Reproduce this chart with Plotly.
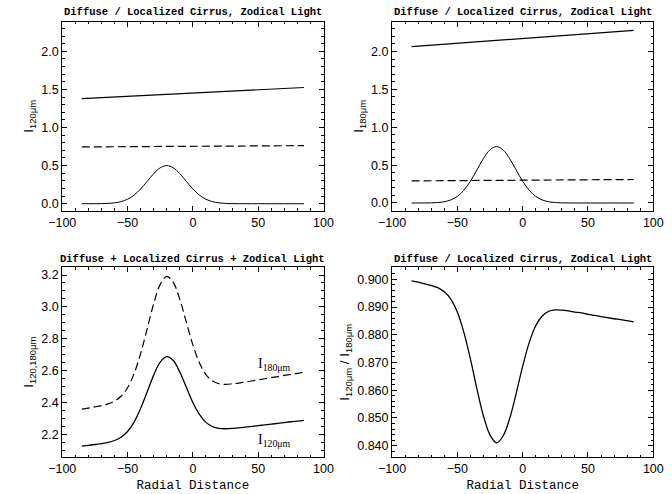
import plotly.graph_objects as go

# ---------------- data ----------------
x_ends = [-85, 85]
x_curve = [-85, -80, -75, -70, -65, -60, -55, -50, -45, -40, -35, -30, -25, -20, -15,
           -10, -5, 0, 5, 10, 15, 20, 25, 30, 35, 40, 45, 50, 55, 60, 65, 70, 75, 80, 85]

# top-left: 120 micron components
diffuse_120 = [1.38, 1.525]
zodi_120 = [0.745, 0.762]
cirrus_120 = [0, 0.0001, 0.0004, 0.0013, 0.0041, 0.0112, 0.0272, 0.0588, 0.1131, 0.1931,
              0.2928, 0.394, 0.471, 0.5, 0.471, 0.394, 0.2928, 0.1931, 0.1131, 0.0588,
              0.0272, 0.0112, 0.0041, 0.0013, 0.0004, 0.0001, 0, 0, 0, 0, 0, 0, 0, 0, 0]

# top-right: 180 micron components
diffuse_180 = [2.065, 2.279]
zodi_180 = [0.292, 0.31]
cirrus_180 = [0, 0.0001, 0.0006, 0.0019, 0.006, 0.0166, 0.0405, 0.0876, 0.1685, 0.2877,
              0.4363, 0.5871, 0.7018, 0.745, 0.7018, 0.5871, 0.4363, 0.2877, 0.1685, 0.0876,
              0.0405, 0.0166, 0.006, 0.0019, 0.0006, 0.0001, 0, 0, 0, 0, 0, 0, 0, 0, 0]

# bottom-left: totals
total_120 = [2.125, 2.130, 2.135, 2.141, 2.148, 2.160, 2.181, 2.217, 2.276, 2.361, 2.465,
             2.571, 2.653, 2.687, 2.663, 2.590, 2.494, 2.399, 2.324, 2.274, 2.248, 2.236,
             2.234, 2.236, 2.240, 2.244, 2.249, 2.254, 2.258, 2.263, 2.268, 2.273, 2.278,
             2.282, 2.287]
total_180 = [2.357, 2.364, 2.371, 2.379, 2.390, 2.408, 2.438, 2.492, 2.580, 2.706, 2.862,
             3.019, 3.141, 3.191, 3.154, 3.047, 2.903, 2.761, 2.648, 2.574, 2.534, 2.517,
             2.513, 2.516, 2.521, 2.528, 2.534, 2.541, 2.548, 2.555, 2.562, 2.569, 2.575,
             2.582, 2.589]

# bottom-right: ratio
ratio = [0.8995, 0.8990, 0.8984, 0.8978, 0.8970, 0.8955, 0.8929, 0.8882, 0.8809, 0.8713,
         0.8605, 0.8507, 0.8439, 0.8410, 0.8435, 0.8497, 0.8588, 0.8686, 0.8772, 0.8833,
         0.8868, 0.8885, 0.8890, 0.8889, 0.8886, 0.8882, 0.8879, 0.8874, 0.8870, 0.8866,
         0.8862, 0.8858, 0.8855, 0.8851, 0.8847]

titles = ["Diffuse / Localized Cirrus, Zodical Light",
          "Diffuse / Localized Cirrus, Zodical Light",
          "Diffuse + Localized Cirrus + Zodical Light",
          "Diffuse / Localized Cirrus, Zodical Light"]
ytitles = ["I<sub>120μm</sub>", "I<sub>180μm</sub>", "I<sub>120,180μm</sub>",
           "I<sub>120μm</sub> / I<sub>180μm</sub>"]
xtitle = "Radial Distance"

# ---------------- figure ----------------
fig = go.Figure()
solid = dict(color="black", width=1.2)
dashed = dict(color="black", width=1.2, dash="8px,4px")

fig.add_trace(go.Scatter(x=x_ends, y=diffuse_120, mode="lines", line=solid, xaxis="x", yaxis="y"))
fig.add_trace(go.Scatter(x=x_ends, y=zodi_120, mode="lines", line=dashed, xaxis="x", yaxis="y"))
fig.add_trace(go.Scatter(x=x_curve, y=cirrus_120, mode="lines", line=dict(color="black", width=1, shape="spline"), xaxis="x", yaxis="y"))

fig.add_trace(go.Scatter(x=x_ends, y=diffuse_180, mode="lines", line=solid, xaxis="x2", yaxis="y2"))
fig.add_trace(go.Scatter(x=x_ends, y=zodi_180, mode="lines", line=dashed, xaxis="x2", yaxis="y2"))
fig.add_trace(go.Scatter(x=x_curve, y=cirrus_180, mode="lines", line=dict(color="black", width=1, shape="spline"), xaxis="x2", yaxis="y2"))

fig.add_trace(go.Scatter(x=x_curve, y=total_180, mode="lines", line=dict(color="black", width=1.2, dash="8px,4px", shape="spline"), xaxis="x3", yaxis="y3"))
fig.add_trace(go.Scatter(x=x_curve, y=total_120, mode="lines", line=dict(color="black", width=1.3, shape="spline"), xaxis="x3", yaxis="y3"))

fig.add_trace(go.Scatter(x=x_curve, y=ratio, mode="lines", line=dict(color="black", width=1.3, shape="spline"), xaxis="x4", yaxis="y4"))

tickfont = dict(family="Liberation Sans", size=12.5, color="black")
xdom_l = [50 / 672, 321 / 672]
xdom_r = [392 / 672, 663 / 672]
ydom_t = [1 - 211 / 494, 1 - 22 / 494]
ydom_b = [1 - 458 / 494, 1 - 268 / 494]


def xax(domain, anchor, title=None):
    d = dict(domain=domain, anchor=anchor, range=[-100, 100], dtick=50, tick0=0,
             ticks="inside", ticklen=5, tickcolor="black", showline=True, linecolor="black",
             linewidth=1, mirror="ticks", showgrid=False, zeroline=False, tickfont=tickfont,
             minor=dict(ticks="inside", ticklen=2.5, dtick=10, tickcolor="black", showgrid=False))
    if title:
        d["title"] = dict(text=title, font=dict(family="Liberation Mono", size=12.5, color="black"), standoff=5)
    return d


def yax(domain, anchor, rng, dtick, mdtick, fmt, title):
    return dict(domain=domain, anchor=anchor, range=rng, dtick=dtick, tick0=0, tickformat=fmt,
                ticks="inside", ticklen=5, tickcolor="black", showline=True, linecolor="black",
                linewidth=1, mirror="ticks", showgrid=False, zeroline=False, tickfont=tickfont,
                minor=dict(ticks="inside", ticklen=2.5, dtick=mdtick, tickcolor="black", showgrid=False),
                title=dict(text=title, font=dict(family="Liberation Sans", size=13.5, color="black"), standoff=4))


fig.update_layout(
    width=672, height=494, margin=dict(l=0, r=0, t=0, b=0),
    paper_bgcolor="white", plot_bgcolor="white", showlegend=False,
    xaxis=xax(xdom_l, "y"),
    yaxis=yax(ydom_t, "x", [-0.09, 2.385], 0.5, 0.1, ".1f", ytitles[0]),
    xaxis2=xax(xdom_r, "y2"),
    yaxis2=yax(ydom_t, "x2", [-0.1, 2.39], 0.5, 0.1, ".1f", ytitles[1]),
    xaxis3=xax(xdom_l, "y3", xtitle),
    yaxis3=yax(ydom_b, "x3", [2.056, 3.2475], 0.2, 0.05, ".1f", ytitles[2]),
    xaxis4=xax(xdom_r, "y4", xtitle),
    yaxis4=yax(ydom_b, "x4", [0.8359, 0.9043], 0.01, 0.002, ".3f", ytitles[3]),
)

title_font = dict(family="Liberation Mono", size=10.5, color="black")
title_pos = [((xdom_l[0] + xdom_l[1]) / 2, 1 - 12.5 / 494),
             ((xdom_r[0] + xdom_r[1]) / 2, 1 - 12.5 / 494),
             ((xdom_l[0] + xdom_l[1]) / 2, 1 - 259.5 / 494),
             ((xdom_r[0] + xdom_r[1]) / 2, 1 - 259.5 / 494)]
for t, (px, py) in zip(titles, title_pos):
    fig.add_annotation(text="<b>" + t + "</b>", x=px, y=py, xref="paper", yref="paper",
                       xanchor="center", yanchor="middle", showarrow=False, font=title_font)

lab_font = dict(family="Liberation Serif", size=14, color="black")
fig.add_annotation(text="I<sub>180μm</sub>", x=48, y=2.64, xref="x3", yref="y3",
                   xanchor="left", yanchor="middle", showarrow=False, font=lab_font)
fig.add_annotation(text="I<sub>120μm</sub>", x=48, y=2.16, xref="x3", yref="y3",
                   xanchor="left", yanchor="middle", showarrow=False, font=lab_font)

fig.write_html("out.html")
